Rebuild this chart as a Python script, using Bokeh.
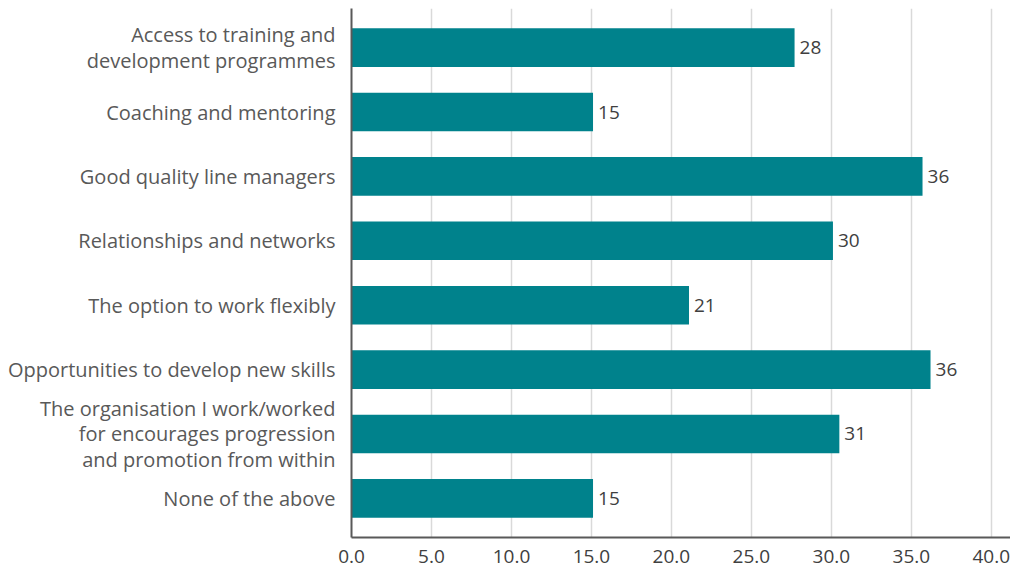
from bokeh.plotting import figure
from bokeh.models import FactorRange, FixedTicker, NumeralTickFormatter, ColumnDataSource
from bokeh.core.properties import value
from bokeh.embed import file_html
from bokeh.resources import INLINE

categories = [
    "Access to training and\ndevelopment programmes",
    "Coaching and mentoring",
    "Good quality line managers",
    "Relationships and networks",
    "The option to work flexibly",
    "Opportunities to develop new skills",
    "The organisation I work/worked\nfor encourages progression\nand promotion from within",
    "None of the above",
]
values = [27.7, 15.1, 35.7, 30.1, 21.1, 36.2, 30.5, 15.1]
labels = ["28", "15", "36", "30", "21", "36", "31", "15"]
x_ticks = [0, 5, 10, 15, 20, 25, 30, 35, 40]

FONT = "Open Sans"

src = ColumnDataSource(dict(cat=categories, val=values, lab=labels))

p = figure(
    width=1010, height=573,
    y_range=FactorRange(factors=list(reversed(categories)), range_padding=0.027),
    x_range=(0, 41.2),
    output_backend="svg", toolbar_location=None,
    min_border_left=351, min_border_right=0, min_border_top=8,
    min_border_bottom=36,
)
p.outline_line_color = None

p.hbar(y="cat", right="val", left=0, height=0.6, source=src,
       fill_color="#00828C", line_color=None)

p.text(x="val", y="cat", text="lab", source=src, x_offset=5,
       text_baseline="middle", text_align="left",
       text_font=value(FONT), text_font_size="19px", text_color="#404040")

p.xaxis.ticker = FixedTicker(ticks=x_ticks)
p.xaxis.formatter = NumeralTickFormatter(format="0.0")
p.xaxis.major_tick_line_color = None
p.xaxis.minor_tick_line_color = None
p.xaxis.axis_line_color = "#595959"
p.xaxis.axis_line_width = 2
p.xaxis.major_label_text_font = FONT
p.xaxis.major_label_text_font_size = "19px"
p.xaxis.major_label_text_color = "#404040"
p.xaxis.major_label_standoff = 6

p.yaxis.major_tick_line_color = None
p.yaxis.minor_tick_line_color = None
p.yaxis.axis_line_color = "#595959"
p.yaxis.axis_line_width = 2
p.yaxis.major_label_text_font = FONT
p.yaxis.major_label_text_font_size = "20px"
p.yaxis.major_label_text_color = "#595959"
p.yaxis.major_label_standoff = 10
p.yaxis.major_label_text_line_height = 0.95

p.ygrid.grid_line_color = None
p.xgrid.grid_line_color = "#d9d9d9"
p.xgrid.grid_line_width = 1.5

open("out.html", "w").write(file_html(p, INLINE))
